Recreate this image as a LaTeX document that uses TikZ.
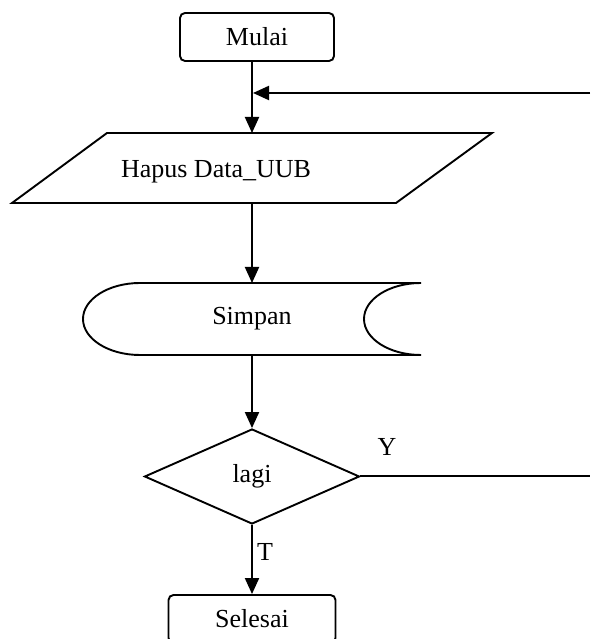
\documentclass[tikz,border=0pt]{standalone}
\usepackage{fontspec}
\setmainfont{Liberation Serif}
\usetikzlibrary{shapes.geometric,arrows.meta}

\begin{document}
\begin{tikzpicture}[x=1pt,y=1pt,
   txt/.style={font=\fontsize{26}{30}\selectfont},
   term/.style={txt,draw,rounded corners=5pt,line width=1.9pt,minimum width=154pt,minimum height=48pt,inner sep=0pt},
   box/.style={txt,inner sep=0pt,outer sep=0pt},
   decision/.style={txt,draw,diamond,aspect=2.26,minimum width=215pt,minimum height=95pt,inner sep=0pt,line width=1.9pt},
   flow/.style={line width=2pt,-{Triangle[length=16pt,width=14pt]}},
   plain/.style={line width=2pt}]
   \useasboundingbox (0,0) rectangle (590,639);
   \clip (0,0) rectangle (590,639);
  %
   \node[term] (mulai) at (257,602) {Mulai};
   \node[box,minimum width=480pt,minimum height=70pt] (hapus) at (252,471) {};
   \node[txt,anchor=base] (hapuslbl) at (216,461) {Hapus Data\_UUB};
   \node[box,minimum width=338pt,minimum height=72pt] (simpan) at (252,320) {Simpan};
   \node[decision] (lagi) at (252,162.5) {lagi};
   \node[term,minimum width=167pt] (selesai) at (252,20) {Selesai};
   \node[txt] (ya) at (387,192) {Y};
   \node[txt] (tidak) at (265,87) {T};
   \coordinate (kanan1) at (590,546);
   \coordinate (gabung) at (253,546);
   \coordinate (kanan2) at (590,162.5);
  %
   \draw[line width=1.9pt] ([xshift=95pt]hapus.north west) -- (hapus.north east)
      -- ([xshift=-96pt]hapus.south east) -- (hapus.south west) -- cycle;
   \draw[line width=1.9pt] (simpan.north east) -- ([xshift=57pt]simpan.north west)
      arc[start angle=90,end angle=270,x radius=57pt,y radius=36pt]
      -- (simpan.south east)
      arc[start angle=270,end angle=90,x radius=57pt,y radius=36pt];
  %
   \draw[flow] (mulai.south -| hapus.north) -- (hapus.north);
   \draw[flow] (kanan1) -- (gabung);
   \draw[flow] (hapus.south) -- (simpan.north);
   \draw[flow] (simpan.south) -- (lagi.north);
   \draw[flow] (lagi.south) -- (selesai.north);
   \draw[plain] (lagi.east) -- (kanan2);
\end{tikzpicture}
\end{document}
